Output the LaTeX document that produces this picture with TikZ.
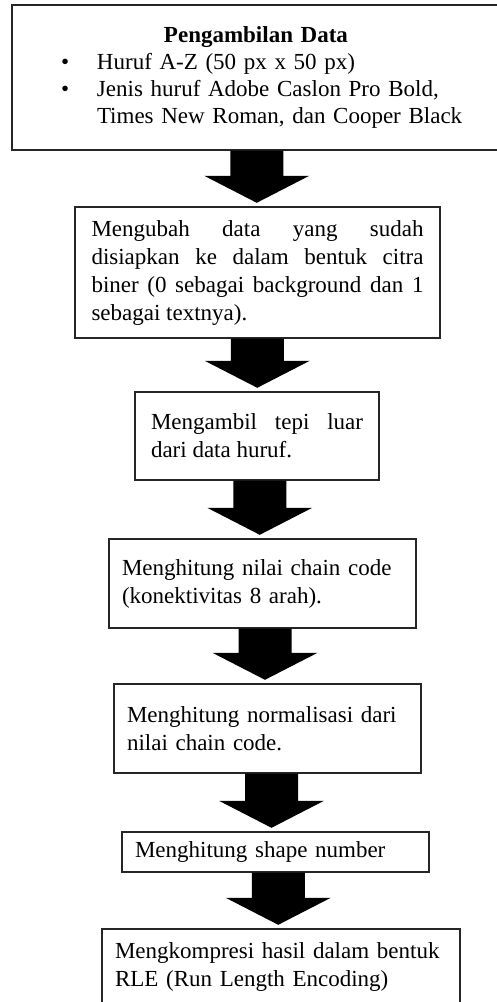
\documentclass[tikz,border=0pt]{standalone}
\usepackage{fontspec}
\setmainfont{Liberation Serif}
\usetikzlibrary{calc}
\hyphenpenalty=10000
\tolerance=9999

\begin{document}
\begin{tikzpicture}[x=1pt, y=-1pt,
  stepbox/.style={draw=black!85, line width=1.4pt, inner sep=0pt, align=left,
    font=\fontsize{23}{28}\selectfont}]
  \useasboundingbox (0,0) rectangle (496,1002);

  \node[stepbox, minimum width=488pt, minimum height=145pt, text width=440pt,
    font=\fontsize{23}{27}\selectfont] (data) at (256,77.5) {
    \makebox[440pt]{\textbf{Pengambilan Data}}\\
    \makebox[61pt][l]{\hspace*{25pt}\textbullet}Huruf A-Z (50 px x 50 px)\\
    \makebox[61pt][l]{\hspace*{25pt}\textbullet}Jenis huruf Adobe Caslon Pro Bold,\\
    \hspace*{61pt}Times New Roman, dan Cooper Black
  };
  \node[stepbox, minimum width=365pt, minimum height=131pt, text width=332pt, align=justify]
    (biner) at (257.5,272.5) {Mengubah data yang sudah disiapkan ke dalam bentuk citra
    biner (0 sebagai background dan 1 sebagai textnya).};
  \node[stepbox, minimum width=244pt, minimum height=88pt, text width=212pt, align=justify]
    (tepi) at (257,436) {Mengambil tepi luar dari data huruf.};
  \node[stepbox, minimum width=307pt, minimum height=89pt, text width=281pt]
    (chain) at (262.5,583.5) {Menghitung nilai chain code (konektivitas 8 arah).};
  \node[stepbox, minimum width=307pt, minimum height=89pt, text width=281pt]
    (normal) at (267.5,728.5) {Menghitung normalisasi dari nilai chain code.};
  \node[stepbox, minimum width=307pt, minimum height=40pt, text width=281pt]
    (shape) at (275.5,852) {Menghitung shape number};
  \node[stepbox, minimum width=358pt, minimum height=76pt, text width=332pt]
    (rle) at (281,967) {Mengkompresi hasil dalam bentuk RLE (Run Length Encoding)};

  \foreach \up/\dn in {data/biner, biner/tepi, tepi/chain, chain/normal, normal/shape, shape/rle}
    \fill let \p1=(\up.south), \p2=(\dn.north), \p3=({(\x1+\x2)/2},0) in
      (\x3-26.5pt,\y1) -- (\x3+26.5pt,\y1) -- (\x3+26.5pt,\y2+30.5pt) -- (\x3+52.5pt,\y2+30.5pt)
      -- (\x3,\y2+3.5pt) -- (\x3-52.5pt,\y2+30.5pt) -- (\x3-26.5pt,\y2+30.5pt) -- cycle;
\end{tikzpicture}
\end{document}
